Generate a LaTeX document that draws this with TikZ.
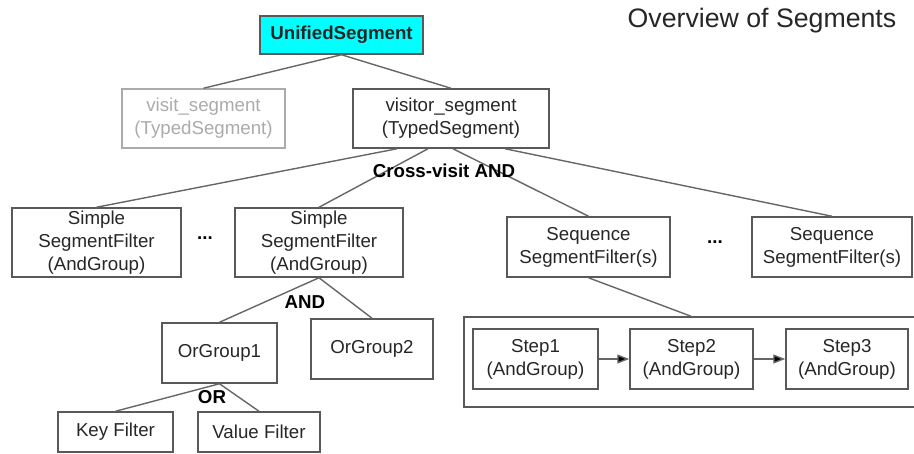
\documentclass[tikz,border=0pt]{standalone}
\usepackage{fontspec}
\setmainfont{Liberation Sans}
\usetikzlibrary{arrows.meta, calc, positioning}
\definecolor{boxgray}{HTML}{595959}
\definecolor{linegray}{HTML}{666666}
\definecolor{fadegray}{HTML}{ABABAB}
\definecolor{unicyan}{HTML}{00FFFF}
\definecolor{inkgray}{HTML}{262626}
\newcommand{\txt}{\fontsize{18.7}{23}\selectfont}

\tikzset{
  box/.style={draw=boxgray, line width=1.5pt, align=center, inner sep=0pt, text=inkgray, font=\txt},
  tie/.style={draw=linegray, line width=1.4pt},
  joiner/.style={font=\txt\bfseries, inner sep=0pt},
  >={Triangle[length=12pt,width=9pt]}
}

\begin{document}
\begin{tikzpicture}[x=1pt, y=-1pt]
\useasboundingbox (0,0) rectangle (914,453);
\clip (0,0) rectangle (914,453);

\node[text=inkgray] (title) at (762,21) {\fontsize{26.7}{30}\selectfont Overview of Segments};

\node[box, fill=unicyan, minimum width=163pt, minimum height=38pt, font=\txt\bfseries] (uni) at (341.5,35) {UnifiedSegment};
\node[box, draw=fadegray, text=fadegray, minimum width=163pt, minimum height=59pt] (visit) at (203.5,118.5) {visit\_segment\\(TypedSegment)};
\node[box, minimum width=196pt, minimum height=59pt] (visitor) at (451,118.5) {visitor\_segment\\(TypedSegment)};

\node[box, minimum width=169pt, minimum height=69pt] (ssf1) at (96.5,242.5) {Simple\\SegmentFilter\\(AndGroup)};
\node[joiner] (dots1) at (205,238) {...};
\node[box, minimum width=168pt, minimum height=69pt] (ssf2) at (319,242.5) {Simple\\SegmentFilter\\(AndGroup)};
\node[box, minimum width=163pt, minimum height=60pt] (seq1) at (588.5,247) {Sequence\\SegmentFilter(s)};
\node[joiner] (dots2) at (715,242) {...};
\node[box, minimum width=160pt, minimum height=60pt] (seq2) at (832,247) {Sequence\\SegmentFilter(s)};

\node[box, minimum width=115pt, minimum height=60pt] (or1) at (219.5,353) {OrGroup1};
\node[box, minimum width=122pt, minimum height=60pt] (or2) at (372,349) {OrGroup2};
\node[box, minimum width=115pt, minimum height=40pt] (key) at (115.5,432) {Key Filter};
\node[box, minimum width=122pt, minimum height=40pt] (value) at (259,432) {Value Filter};

\node[box, minimum width=454pt, minimum height=90pt] (steps) at (691,362) {};
\node[box, minimum width=125pt, minimum height=60pt] (step1) at (535.5,359) {Step1\\(AndGroup)};
\node[box, minimum width=123pt, minimum height=60pt] (step2) at (691.5,359) {Step2\\(AndGroup)};
\node[box, minimum width=122pt, minimum height=60pt] (step3) at (847,359) {Step3\\(AndGroup)};

\draw[tie]
  (uni.south) edge (visit.north)
  (uni.south) edge (visitor.north)
  ([xshift=-54pt]visitor.south) edge (ssf1.north)
  ([xshift=-23pt]visitor.south) edge (ssf2.north)
  ([xshift=2pt]visitor.south) edge (seq1.north)
  ([xshift=54pt]visitor.south) edge (seq2.north)
  (ssf2.south) edge (or1.north)
  (ssf2.south) edge (or2.north)
  (or1.south) edge (key.north)
  (or1.south) edge (value.north)
  (seq1.south) edge (steps.north)
  (step1) edge[->, fill=linegray] (step2)
  (step2) edge[->, fill=linegray] (step3);

\node[joiner] (crossand) at (444,171) {Cross-visit AND};
\node[joiner] (andlbl) at (305,302) {AND};
\node[joiner] (orlbl) at (212,397) {OR};
\end{tikzpicture}
\end{document}
